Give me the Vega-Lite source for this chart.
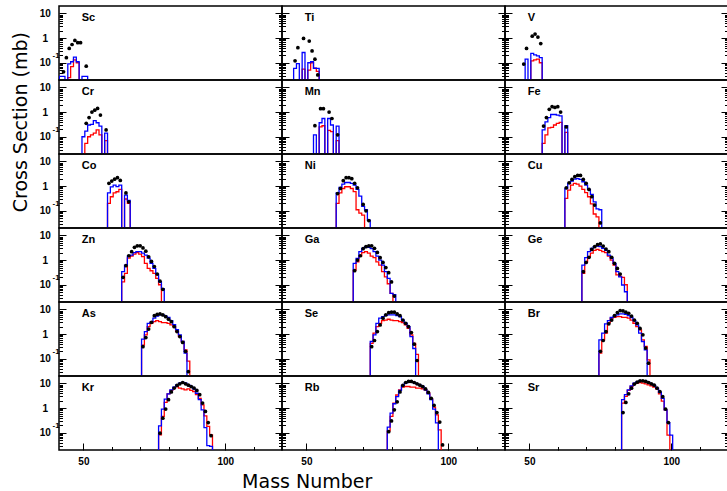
{
"$schema":"https://vega.github.io/schema/vega-lite/v6.json",
"background":"white",
"padding":{"left":10,"top":5,"right":0,"bottom":45},
"config":{"view":{"stroke":"black","strokeWidth":1.5},"concat":{"spacing":0},
"axis":{"domain":false,"grid":false,"tickColor":"black","tickWidth":1,"labelFont":"Liberation Sans","labelFontWeight":"bold","labelFontSize":10,"labelColor":"black","labelOverlap":false,"labelFlush":false,"labelBound":false,"titleFont":"DejaVu Sans","titleFontWeight":"normal","titleFontSize":19,"titleColor":"black"}},
"datasets":{"d":[
{"el":"Sc","A":41,"b":0.001,"r":0.001},{"el":"Sc","A":42,"b":0.028,"r":0.001},{"el":"Sc","A":43,"e":0.043,"b":0.028,"r":0.001},{"el":"Sc","A":44,"e":0.16,"b":0.001,"r":0.001},{"el":"Sc","A":45,"e":0.38,"b":0.09,"r":0.025},{"el":"Sc","A":46,"e":0.55,"b":0.11,"r":0.07},{"el":"Sc","A":47,"e":0.8,"b":0.17,"r":0.13},{"el":"Sc","A":48,"e":0.65,"b":0.11,"r":0.1},{"el":"Sc","A":49,"e":0.65,"b":0.001,"r":0.001},{"el":"Sc","A":50,"b":0.028,"r":0.001},{"el":"Sc","A":51,"e":0.073,"b":0.028,"r":0.001},{"el":"Sc","A":52,"b":0.001,"r":0.001},
{"el":"Ti","A":45,"b":0.001,"r":0.001},{"el":"Ti","A":46,"e":0.12,"b":0.059,"r":0.001},{"el":"Ti","A":47,"e":0.41,"b":0.093,"r":0.001},{"el":"Ti","A":48,"b":0.001,"r":0.001},{"el":"Ti","A":49,"e":0.97,"b":0.26,"r":0.055},{"el":"Ti","A":50,"b":0.001,"r":0.001},{"el":"Ti","A":51,"e":0.76,"b":0.1,"r":0.05},{"el":"Ti","A":52,"e":0.3,"b":0.11,"r":0.1},{"el":"Ti","A":53,"e":0.14,"b":0.06,"r":0.06},{"el":"Ti","A":54,"e":0.032,"b":0.059,"r":0.045},{"el":"Ti","A":55,"b":0.001,"r":0.001},
{"el":"V","A":47,"b":0.001,"r":0.001},{"el":"V","A":48,"e":0.089,"b":0.001,"r":0.001},{"el":"V","A":49,"e":0.38,"b":0.14,"r":0.001},{"el":"V","A":50,"b":0.001,"r":0.001},{"el":"V","A":51,"e":1.2,"b":0.24,"r":0.12},{"el":"V","A":52,"e":1.45,"b":0.21,"r":0.13},{"el":"V","A":53,"e":1.1,"b":0.19,"r":0.14},{"el":"V","A":54,"e":0.6,"b":0.16,"r":0.1},{"el":"V","A":55,"b":0.001,"r":0.001},
{"el":"Cr","A":49,"b":0.001,"r":0.001},{"el":"Cr","A":50,"b":0.1,"r":0.001},{"el":"Cr","A":51,"e":0.35,"b":0.17,"r":0.054},{"el":"Cr","A":52,"e":0.6,"b":0.3,"r":0.1},{"el":"Cr","A":53,"e":1.0,"b":0.32,"r":0.12},{"el":"Cr","A":54,"e":1.2,"b":0.45,"r":0.14},{"el":"Cr","A":55,"e":1.4,"b":0.37,"r":0.19},{"el":"Cr","A":56,"e":0.76,"b":0.27,"r":0.12},{"el":"Cr","A":57,"b":0.001,"r":0.001},{"el":"Cr","A":58,"e":0.19,"b":0.14,"r":0.07},{"el":"Cr","A":59,"b":0.001,"r":0.001},
{"el":"Mn","A":52,"b":0.001,"r":0.001},{"el":"Mn","A":53,"e":0.28,"b":0.12,"r":0.001},{"el":"Mn","A":54,"b":0.001,"r":0.001},{"el":"Mn","A":55,"e":1.37,"b":0.37,"r":0.25},{"el":"Mn","A":56,"e":1.37,"b":0.55,"r":0.28},{"el":"Mn","A":57,"b":0.001,"r":0.001},{"el":"Mn","A":58,"e":1.0,"b":0.55,"r":0.18},{"el":"Mn","A":59,"e":0.55,"b":0.3,"r":0.16},{"el":"Mn","A":60,"b":0.001,"r":0.001},{"el":"Mn","A":61,"e":0.12,"b":0.27,"r":0.07},{"el":"Mn","A":62,"b":0.001,"r":0.001},
{"el":"Fe","A":54,"b":0.001,"r":0.001},{"el":"Fe","A":55,"e":0.27,"b":0.19,"r":0.054},{"el":"Fe","A":56,"e":0.6,"b":0.4,"r":0.12},{"el":"Fe","A":57,"e":1.3,"b":0.6,"r":0.23},{"el":"Fe","A":58,"e":1.65,"b":0.8,"r":0.24},{"el":"Fe","A":59,"e":1.55,"b":0.8,"r":0.3},{"el":"Fe","A":60,"e":1.65,"b":0.75,"r":0.35},{"el":"Fe","A":61,"e":1.0,"b":0.7,"r":0.38},{"el":"Fe","A":62,"b":0.001,"r":0.001},{"el":"Fe","A":63,"e":0.25,"b":0.28,"r":0.15},{"el":"Fe","A":64,"b":0.001,"r":0.001},
{"el":"Co","A":58,"b":0.001,"r":0.001},{"el":"Co","A":59,"e":1.3,"b":0.53,"r":0.2},{"el":"Co","A":60,"e":1.6,"b":0.93,"r":0.37},{"el":"Co","A":61,"e":1.9,"b":1.1,"r":0.53},{"el":"Co","A":62,"e":2.2,"b":0.95,"r":0.59},{"el":"Co","A":63,"e":1.7,"b":1.1,"r":0.73},{"el":"Co","A":64,"b":0.001,"r":0.001},{"el":"Co","A":65,"e":0.53,"b":0.43,"r":0.3},{"el":"Co","A":66,"e":0.23,"b":0.26,"r":0.2},{"el":"Co","A":67,"b":0.001,"r":0.001},
{"el":"Ni","A":60,"b":0.001,"r":0.001},{"el":"Ni","A":61,"e":0.5,"b":0.53,"r":0.2},{"el":"Ni","A":62,"e":0.8,"b":0.88,"r":0.53},{"el":"Ni","A":63,"e":1.65,"b":1.2,"r":0.8},{"el":"Ni","A":64,"e":2.2,"b":1.4,"r":0.94},{"el":"Ni","A":65,"e":2.2,"b":1.4,"r":0.94},{"el":"Ni","A":66,"e":2.0,"b":1.3,"r":0.8},{"el":"Ni","A":67,"e":1.3,"b":1.1,"r":0.6},{"el":"Ni","A":68,"e":0.85,"b":0.73,"r":0.11},{"el":"Ni","A":69,"b":0.39,"r":0.08},{"el":"Ni","A":70,"e":0.18,"b":0.15,"r":0.067},{"el":"Ni","A":71,"e":0.1,"b":0.11,"r":0.001},{"el":"Ni","A":72,"e":0.04,"b":0.042,"r":0.001},{"el":"Ni","A":73,"b":0.001,"r":0.001},
{"el":"Cu","A":62,"b":0.001,"r":0.001},{"el":"Cu","A":63,"e":0.85,"b":0.8,"r":0.32},{"el":"Cu","A":64,"e":1.36,"b":1.3,"r":0.69},{"el":"Cu","A":65,"e":1.86,"b":1.6,"r":1.1},{"el":"Cu","A":66,"e":2.4,"b":1.9,"r":1.3},{"el":"Cu","A":67,"e":2.7,"b":2.0,"r":1.2},{"el":"Cu","A":68,"e":2.7,"b":1.86,"r":1.0},{"el":"Cu","A":69,"e":1.86,"b":1.5,"r":0.73},{"el":"Cu","A":70,"e":1.3,"b":1.1,"r":0.54},{"el":"Cu","A":71,"e":0.73,"b":0.73,"r":0.37},{"el":"Cu","A":72,"e":0.37,"b":0.46,"r":0.19},{"el":"Cu","A":73,"e":0.17,"b":0.23,"r":0.074},{"el":"Cu","A":74,"b":0.12,"r":0.057},{"el":"Cu","A":75,"e":0.032,"b":0.11,"r":0.001},{"el":"Cu","A":76,"b":0.001,"r":0.001},
{"el":"Zn","A":63,"b":0.001,"r":0.001},{"el":"Zn","A":64,"e":0.2,"b":0.34,"r":0.13},{"el":"Zn","A":65,"e":0.59,"b":0.63,"r":0.29},{"el":"Zn","A":66,"e":1.5,"b":1.45,"r":1.2},{"el":"Zn","A":67,"e":2.2,"b":1.6,"r":1.45},{"el":"Zn","A":68,"e":3.3,"b":2.0,"r":1.75},{"el":"Zn","A":69,"e":3.8,"b":2.2,"r":2.0},{"el":"Zn","A":70,"e":3.8,"b":2.2,"r":1.75},{"el":"Zn","A":71,"e":3.1,"b":1.9,"r":1.37},{"el":"Zn","A":72,"e":2.3,"b":1.6,"r":0.73},{"el":"Zn","A":73,"e":1.36,"b":1.2,"r":0.46},{"el":"Zn","A":74,"e":0.88,"b":0.73,"r":0.37},{"el":"Zn","A":75,"e":0.55,"b":0.46,"r":0.29},{"el":"Zn","A":76,"e":0.27,"b":0.27,"r":0.18},{"el":"Zn","A":77,"e":0.14,"b":0.13,"r":0.1},{"el":"Zn","A":78,"e":0.065,"b":0.07,"r":0.001},{"el":"Zn","A":79,"b":0.001,"r":0.001},
{"el":"Ga","A":66,"b":0.001,"r":0.001},{"el":"Ga","A":67,"e":0.37,"b":0.73,"r":0.39},{"el":"Ga","A":68,"e":1.0,"b":1.17,"r":0.85},{"el":"Ga","A":69,"e":1.5,"b":2.2,"r":1.45},{"el":"Ga","A":70,"e":2.9,"b":3.0,"r":2.0},{"el":"Ga","A":71,"e":3.5,"b":3.5,"r":2.2},{"el":"Ga","A":72,"e":3.8,"b":3.3,"r":1.9},{"el":"Ga","A":73,"e":3.8,"b":2.9,"r":1.45},{"el":"Ga","A":74,"e":3.0,"b":2.2,"r":1.25},{"el":"Ga","A":75,"e":2.05,"b":1.45,"r":0.85},{"el":"Ga","A":76,"e":1.25,"b":1.0,"r":0.63},{"el":"Ga","A":77,"e":0.8,"b":0.63,"r":0.34},{"el":"Ga","A":78,"e":0.5,"b":0.34,"r":0.21},{"el":"Ga","A":79,"e":0.31,"b":0.18,"r":0.11},{"el":"Ga","A":80,"e":0.13,"b":0.045,"r":0.045},{"el":"Ga","A":81,"e":0.035,"b":0.04,"r":0.001},{"el":"Ga","A":82,"b":0.001,"r":0.001},
{"el":"Ge","A":68,"b":0.001,"r":0.001},{"el":"Ge","A":69,"e":0.34,"b":0.63,"r":0.29},{"el":"Ge","A":70,"e":0.8,"b":1.25,"r":0.85},{"el":"Ge","A":71,"e":1.3,"b":2.2,"r":1.37},{"el":"Ge","A":72,"e":2.7,"b":3.0,"r":1.9},{"el":"Ge","A":73,"e":3.5,"b":3.5,"r":2.5},{"el":"Ge","A":74,"e":4.2,"b":3.7,"r":2.7},{"el":"Ge","A":75,"e":4.5,"b":3.5,"r":2.5},{"el":"Ge","A":76,"e":3.7,"b":3.0,"r":2.2},{"el":"Ge","A":77,"e":2.8,"b":2.5,"r":2.0},{"el":"Ge","A":78,"e":2.2,"b":1.6,"r":1.45},{"el":"Ge","A":79,"e":1.3,"b":1.17,"r":1.0},{"el":"Ge","A":80,"e":0.73,"b":0.73,"r":0.63},{"el":"Ge","A":81,"e":0.46,"b":0.34,"r":0.25},{"el":"Ge","A":82,"e":0.27,"b":0.21,"r":0.22},{"el":"Ge","A":83,"b":0.098,"r":0.2},{"el":"Ge","A":84,"b":0.052,"r":0.1},{"el":"Ge","A":85,"b":0.001,"r":0.001},
{"el":"As","A":70,"b":0.001,"r":0.001},{"el":"As","A":71,"e":0.31,"b":0.62,"r":0.36},{"el":"As","A":72,"e":0.72,"b":1.26,"r":0.93},{"el":"As","A":73,"e":1.6,"b":2.7,"r":2.0},{"el":"As","A":74,"e":3.0,"b":3.1,"r":2.7},{"el":"As","A":75,"e":5.6,"b":4.4,"r":3.2},{"el":"As","A":76,"e":6.3,"b":5.4,"r":3.5},{"el":"As","A":77,"e":6.6,"b":6.0,"r":3.2},{"el":"As","A":78,"e":6.0,"b":6.0,"r":2.9},{"el":"As","A":79,"e":5.1,"b":5.4,"r":2.9},{"el":"As","A":80,"e":4.0,"b":4.7,"r":2.7},{"el":"As","A":81,"e":3.2,"b":3.5,"r":2.35},{"el":"As","A":82,"e":2.0,"b":2.4,"r":2.0},{"el":"As","A":83,"e":1.26,"b":1.5,"r":1.26},{"el":"As","A":84,"e":0.79,"b":0.93,"r":0.79},{"el":"As","A":85,"e":0.46,"b":0.5,"r":0.5},{"el":"As","A":86,"e":0.2,"b":0.17,"r":0.23},{"el":"As","A":87,"e":0.03,"b":0.001,"r":0.08},{"el":"As","A":88,"b":0.001,"r":0.001},
{"el":"Se","A":72,"b":0.001,"r":0.001},{"el":"Se","A":73,"e":0.31,"b":0.5,"r":0.42},{"el":"Se","A":74,"e":0.55,"b":0.93,"r":1.1},{"el":"Se","A":75,"e":1.26,"b":2.7,"r":2.0},{"el":"Se","A":76,"e":2.35,"b":4.4,"r":2.7},{"el":"Se","A":77,"e":4.4,"b":5.1,"r":3.5},{"el":"Se","A":78,"e":6.0,"b":5.8,"r":3.7},{"el":"Se","A":79,"e":7.4,"b":6.0,"r":4.0},{"el":"Se","A":80,"e":7.7,"b":6.0,"r":3.7},{"el":"Se","A":81,"e":7.7,"b":6.0,"r":3.5},{"el":"Se","A":82,"e":6.6,"b":5.6,"r":3.5},{"el":"Se","A":83,"e":5.6,"b":5.1,"r":3.2},{"el":"Se","A":84,"e":3.7,"b":3.7,"r":2.9},{"el":"Se","A":85,"e":2.75,"b":2.75,"r":2.35},{"el":"Se","A":86,"e":2.0,"b":2.0,"r":1.7},{"el":"Se","A":87,"e":1.15,"b":0.79,"r":0.93},{"el":"Se","A":88,"e":0.39,"b":0.26,"r":0.42},{"el":"Se","A":89,"e":0.085,"b":0.001,"r":0.15},{"el":"Se","A":90,"b":0.001,"r":0.001},
{"el":"Br","A":74,"b":0.001,"r":0.001},{"el":"Br","A":75,"e":0.2,"b":0.58,"r":0.17},{"el":"Br","A":76,"e":0.55,"b":1.1,"r":0.58},{"el":"Br","A":77,"e":1.26,"b":2.6,"r":1.1},{"el":"Br","A":78,"e":2.6,"b":3.5,"r":2.9},{"el":"Br","A":79,"e":3.7,"b":4.7,"r":4.4},{"el":"Br","A":80,"e":5.6,"b":5.4,"r":4.8},{"el":"Br","A":81,"e":7.4,"b":6.0,"r":5.1},{"el":"Br","A":82,"e":9.0,"b":6.6,"r":5.1},{"el":"Br","A":83,"e":8.7,"b":6.6,"r":4.8},{"el":"Br","A":84,"e":7.7,"b":6.3,"r":4.8},{"el":"Br","A":85,"e":7.0,"b":5.6,"r":4.4},{"el":"Br","A":86,"e":5.4,"b":4.7,"r":3.7},{"el":"Br","A":87,"e":3.7,"b":3.5,"r":2.75},{"el":"Br","A":88,"e":2.75,"b":2.35,"r":2.0},{"el":"Br","A":89,"e":1.7,"b":1.1,"r":1.47},{"el":"Br","A":90,"e":0.93,"b":0.5,"r":0.58},{"el":"Br","A":91,"e":0.27,"b":0.23,"r":0.32},{"el":"Br","A":92,"e":0.066,"b":0.001,"r":0.09},{"el":"Br","A":93,"b":0.001,"r":0.001},
{"el":"Kr","A":76,"b":0.001,"r":0.001},{"el":"Kr","A":77,"e":0.096,"b":0.19,"r":0.082},{"el":"Kr","A":78,"e":0.39,"b":0.91,"r":0.46},{"el":"Kr","A":79,"e":0.91,"b":2.3,"r":1.7},{"el":"Kr","A":80,"e":2.2,"b":3.8,"r":3.8},{"el":"Kr","A":81,"e":4.5,"b":5.5,"r":5.2},{"el":"Kr","A":82,"e":6.5,"b":7.1,"r":6.5},{"el":"Kr","A":83,"e":8.3,"b":8.8,"r":7.5},{"el":"Kr","A":84,"e":9.6,"b":10.2,"r":6.5},{"el":"Kr","A":85,"e":10.9,"b":10.9,"r":6.0},{"el":"Kr","A":86,"e":9.6,"b":10.2,"r":5.5},{"el":"Kr","A":87,"e":8.5,"b":8.8,"r":6.0},{"el":"Kr","A":88,"e":7.5,"b":7.5,"r":5.2},{"el":"Kr","A":89,"e":6.5,"b":6.0,"r":4.7},{"el":"Kr","A":90,"e":5.2,"b":4.0,"r":3.5},{"el":"Kr","A":91,"e":3.5,"b":2.2,"r":2.5},{"el":"Kr","A":92,"e":1.6,"b":0.85,"r":1.35},{"el":"Kr","A":93,"e":0.73,"b":0.16,"r":0.48},{"el":"Kr","A":94,"e":0.26,"b":0.03,"r":0.18},{"el":"Kr","A":95,"e":0.076,"b":0.028,"r":0.082},{"el":"Kr","A":96,"b":0.001,"r":0.001},
{"el":"Rb","A":78,"b":0.001,"r":0.001},{"el":"Rb","A":79,"e":0.11,"b":0.17,"r":0.12},{"el":"Rb","A":80,"e":0.3,"b":0.63,"r":0.46},{"el":"Rb","A":81,"e":0.85,"b":1.5,"r":1.6},{"el":"Rb","A":82,"e":1.8,"b":2.9,"r":3.4},{"el":"Rb","A":83,"e":4.5,"b":5.2,"r":5.5},{"el":"Rb","A":84,"e":8.3,"b":8.3,"r":7.1},{"el":"Rb","A":85,"e":10.9,"b":10.2,"r":7.5},{"el":"Rb","A":86,"e":12,"b":11.6,"r":7.5},{"el":"Rb","A":87,"e":12,"b":11.6,"r":7.1},{"el":"Rb","A":88,"e":10.9,"b":10.9,"r":7.1},{"el":"Rb","A":89,"e":9.6,"b":9.6,"r":6.5},{"el":"Rb","A":90,"e":8.5,"b":8.5,"r":6.5},{"el":"Rb","A":91,"e":7.5,"b":7.5,"r":6.0},{"el":"Rb","A":92,"e":6.0,"b":5.5,"r":5.5},{"el":"Rb","A":93,"e":4.3,"b":3.8,"r":4.0},{"el":"Rb","A":94,"e":2.5,"b":2.2,"r":2.3},{"el":"Rb","A":95,"e":1.3,"b":0.91,"r":1.1},{"el":"Rb","A":96,"e":0.66,"b":0.25,"r":0.53},{"el":"Rb","A":97,"e":0.27,"b":0.001,"r":0.13},{"el":"Rb","A":98,"e":0.032,"b":0.001,"r":0.001},{"el":"Rb","A":99,"b":0.001,"r":0.001},
{"el":"Sr","A":82,"b":0.001,"r":0.001},{"el":"Sr","A":83,"e":0.66,"b":2.2,"r":1.6},{"el":"Sr","A":84,"e":1.7,"b":3.5,"r":3.0},{"el":"Sr","A":85,"e":3.8,"b":5.5,"r":5.2},{"el":"Sr","A":86,"e":6.4,"b":8.0,"r":7.5},{"el":"Sr","A":87,"e":9.4,"b":10.3,"r":9.6},{"el":"Sr","A":88,"e":11.2,"b":11.6,"r":10.2},{"el":"Sr","A":89,"e":12.7,"b":12.7,"r":10.9},{"el":"Sr","A":90,"e":12.7,"b":12.7,"r":10.2},{"el":"Sr","A":91,"e":12,"b":12,"r":9.6},{"el":"Sr","A":92,"e":10.9,"b":10.9,"r":8.8},{"el":"Sr","A":93,"e":9.6,"b":9.6,"r":8.0},{"el":"Sr","A":94,"e":8.5,"b":8.3,"r":7.1},{"el":"Sr","A":95,"e":6.4,"b":6.4,"r":6.0},{"el":"Sr","A":96,"e":4.7,"b":4.3,"r":3.8},{"el":"Sr","A":97,"e":2.9,"b":2.5,"r":1.9},{"el":"Sr","A":98,"e":0.91,"b":0.85,"r":0.85},{"el":"Sr","A":99,"e":0.26,"b":0.25,"r":0.08},{"el":"Sr","A":100,"b":0.08,"r":0.001},{"el":"Sr","A":101,"b":0.001,"r":0.001}
]},
"data":{"name":"d"},
"spacing":0,
"bounds":"flush",
"columns":3,
"concat":[
{"transform":[{"filter":"datum.el=='Sc'"}],"width":223,"height":74,"resolve":{"axis":{"y":"independent"}},"layer":[
{"mark":{"type":"line","interpolate":"step","color":"#ff0000","strokeWidth":1.3,"clip":true},"encoding":{"x":{"field":"A","type":"quantitative","scale":{"domain":[41.4,120],"nice":false,"zero":false},"axis":{"orient":"bottom","values":[50,60,70,80,90,100,110],"tickSize":{"condition":{"test":"datum.value==50||datum.value==100","value":-7},"value":-3.5},"labels":false,"title":null}},"y":{"field":"r","type":"quantitative","scale":{"type":"log","domain":[0.02,20],"nice":false},"axis":{"orient":"left","values":[0.03,0.04,0.05,0.06,0.07,0.08,0.09,0.1,0.2,0.3,0.4,0.5,0.6,0.7,0.8,0.9,1,2,3,4,5,6,7,8,9,10],"tickSize":{"condition":{"test":"datum.value==0.1||datum.value==1||datum.value==10","value":-7},"value":-3.5},"labelExpr":"datum.value==1?'1':(datum.value==10||datum.value==0.1)?'10':''","labelAlign":"center","labelBaseline":"middle","labelPadding":21.3,"title":null}}}},
{"mark":{"type":"line","interpolate":"step","color":"#0000ff","strokeWidth":1.3,"clip":true},"encoding":{"x":{"field":"A","type":"quantitative","scale":{"domain":[41.4,120],"nice":false,"zero":false},"axis":null},"y":{"field":"b","type":"quantitative","scale":{"type":"log","domain":[0.02,20],"nice":false},"axis":{"orient":"right","values":[0.03,0.04,0.05,0.06,0.07,0.08,0.09,0.1,0.2,0.3,0.4,0.5,0.6,0.7,0.8,0.9,1,2,3,4,5,6,7,8,9,10],"tickSize":{"condition":{"test":"datum.value==0.1||datum.value==1||datum.value==10","value":-7},"value":-3.5},"labels":false,"title":null}}}},
{"mark":{"type":"point","filled":true,"color":"black","opacity":1,"size":14,"clip":true},"encoding":{"x":{"field":"A","type":"quantitative","scale":{"domain":[41.4,120],"nice":false,"zero":false},"axis":null},"y":{"field":"e","type":"quantitative","scale":{"type":"log","domain":[0.02,20],"nice":false},"axis":{"orient":"left","values":[0.1],"ticks":false,"labelExpr":"'-1'","labelFontSize":8,"labelAlign":"left","labelBaseline":"middle","labelPadding":7,"labelOffset":-7,"title":null}}}},
{"data":{"values":[{"el":"Sc"}]},"mark":{"type":"text","text":"Sc","align":"left","baseline":"middle","font":"Liberation Sans","fontWeight":"bold","fontSize":11,"color":"black"},"encoding":{"x":{"datum":49.4,"type":"quantitative","scale":{"domain":[41.4,120],"nice":false,"zero":false},"axis":null},"y":{"datum":6.4,"type":"quantitative","scale":{"type":"log","domain":[0.02,20],"nice":false},"axis":null}}}]},
{"transform":[{"filter":"datum.el=='Ti'"}],"width":223,"height":74,"resolve":{"axis":{"y":"independent"}},"layer":[
{"mark":{"type":"line","interpolate":"step","color":"#ff0000","strokeWidth":1.3,"clip":true},"encoding":{"x":{"field":"A","type":"quantitative","scale":{"domain":[41.4,120],"nice":false,"zero":false},"axis":{"orient":"bottom","values":[50,60,70,80,90,100,110],"tickSize":{"condition":{"test":"datum.value==50||datum.value==100","value":-7},"value":-3.5},"labels":false,"title":null}},"y":{"field":"r","type":"quantitative","scale":{"type":"log","domain":[0.02,20],"nice":false},"axis":{"orient":"left","values":[0.03,0.04,0.05,0.06,0.07,0.08,0.09,0.1,0.2,0.3,0.4,0.5,0.6,0.7,0.8,0.9,1,2,3,4,5,6,7,8,9,10],"tickSize":{"condition":{"test":"datum.value==0.1||datum.value==1||datum.value==10","value":-7},"value":-3.5},"labels":false,"title":null}}}},
{"mark":{"type":"line","interpolate":"step","color":"#0000ff","strokeWidth":1.3,"clip":true},"encoding":{"x":{"field":"A","type":"quantitative","scale":{"domain":[41.4,120],"nice":false,"zero":false},"axis":null},"y":{"field":"b","type":"quantitative","scale":{"type":"log","domain":[0.02,20],"nice":false},"axis":{"orient":"right","values":[0.03,0.04,0.05,0.06,0.07,0.08,0.09,0.1,0.2,0.3,0.4,0.5,0.6,0.7,0.8,0.9,1,2,3,4,5,6,7,8,9,10],"tickSize":{"condition":{"test":"datum.value==0.1||datum.value==1||datum.value==10","value":-7},"value":-3.5},"labels":false,"title":null}}}},
{"mark":{"type":"point","filled":true,"color":"black","opacity":1,"size":14,"clip":true},"encoding":{"x":{"field":"A","type":"quantitative","scale":{"domain":[41.4,120],"nice":false,"zero":false},"axis":null},"y":{"field":"e","type":"quantitative","scale":{"type":"log","domain":[0.02,20],"nice":false},"axis":null}}},
{"data":{"values":[{"el":"Ti"}]},"mark":{"type":"text","text":"Ti","align":"left","baseline":"middle","font":"Liberation Sans","fontWeight":"bold","fontSize":11,"color":"black"},"encoding":{"x":{"datum":49.4,"type":"quantitative","scale":{"domain":[41.4,120],"nice":false,"zero":false},"axis":null},"y":{"datum":6.4,"type":"quantitative","scale":{"type":"log","domain":[0.02,20],"nice":false},"axis":null}}}]},
{"transform":[{"filter":"datum.el=='V'"}],"width":223,"height":74,"resolve":{"axis":{"y":"independent"}},"layer":[
{"mark":{"type":"line","interpolate":"step","color":"#ff0000","strokeWidth":1.3,"clip":true},"encoding":{"x":{"field":"A","type":"quantitative","scale":{"domain":[41.4,120],"nice":false,"zero":false},"axis":{"orient":"bottom","values":[50,60,70,80,90,100,110],"tickSize":{"condition":{"test":"datum.value==50||datum.value==100","value":-7},"value":-3.5},"labels":false,"title":null}},"y":{"field":"r","type":"quantitative","scale":{"type":"log","domain":[0.02,20],"nice":false},"axis":{"orient":"left","values":[0.03,0.04,0.05,0.06,0.07,0.08,0.09,0.1,0.2,0.3,0.4,0.5,0.6,0.7,0.8,0.9,1,2,3,4,5,6,7,8,9,10],"tickSize":{"condition":{"test":"datum.value==0.1||datum.value==1||datum.value==10","value":-7},"value":-3.5},"labels":false,"title":null}}}},
{"mark":{"type":"line","interpolate":"step","color":"#0000ff","strokeWidth":1.3,"clip":true},"encoding":{"x":{"field":"A","type":"quantitative","scale":{"domain":[41.4,120],"nice":false,"zero":false},"axis":null},"y":{"field":"b","type":"quantitative","scale":{"type":"log","domain":[0.02,20],"nice":false},"axis":{"orient":"right","values":[0.03,0.04,0.05,0.06,0.07,0.08,0.09,0.1,0.2,0.3,0.4,0.5,0.6,0.7,0.8,0.9,1,2,3,4,5,6,7,8,9,10],"tickSize":{"condition":{"test":"datum.value==0.1||datum.value==1||datum.value==10","value":-7},"value":-3.5},"labels":false,"title":null}}}},
{"mark":{"type":"point","filled":true,"color":"black","opacity":1,"size":14,"clip":true},"encoding":{"x":{"field":"A","type":"quantitative","scale":{"domain":[41.4,120],"nice":false,"zero":false},"axis":null},"y":{"field":"e","type":"quantitative","scale":{"type":"log","domain":[0.02,20],"nice":false},"axis":null}}},
{"data":{"values":[{"el":"V"}]},"mark":{"type":"text","text":"V","align":"left","baseline":"middle","font":"Liberation Sans","fontWeight":"bold","fontSize":11,"color":"black"},"encoding":{"x":{"datum":49.4,"type":"quantitative","scale":{"domain":[41.4,120],"nice":false,"zero":false},"axis":null},"y":{"datum":6.4,"type":"quantitative","scale":{"type":"log","domain":[0.02,20],"nice":false},"axis":null}}}]},
{"transform":[{"filter":"datum.el=='Cr'"}],"width":223,"height":74,"resolve":{"axis":{"y":"independent"}},"layer":[
{"mark":{"type":"line","interpolate":"step","color":"#ff0000","strokeWidth":1.3,"clip":true},"encoding":{"x":{"field":"A","type":"quantitative","scale":{"domain":[41.4,120],"nice":false,"zero":false},"axis":{"orient":"bottom","values":[50,60,70,80,90,100,110],"tickSize":{"condition":{"test":"datum.value==50||datum.value==100","value":-7},"value":-3.5},"labels":false,"title":null}},"y":{"field":"r","type":"quantitative","scale":{"type":"log","domain":[0.02,20],"nice":false},"axis":{"orient":"left","values":[0.03,0.04,0.05,0.06,0.07,0.08,0.09,0.1,0.2,0.3,0.4,0.5,0.6,0.7,0.8,0.9,1,2,3,4,5,6,7,8,9,10],"tickSize":{"condition":{"test":"datum.value==0.1||datum.value==1||datum.value==10","value":-7},"value":-3.5},"labelExpr":"datum.value==1?'1':(datum.value==10||datum.value==0.1)?'10':''","labelAlign":"center","labelBaseline":"middle","labelPadding":21.3,"title":"Cross Section (mb)","titleX":-32.3,"titleY":41.7,"titleAngle":-90,"titleAlign":"center","titleBaseline":"alphabetic"}}}},
{"mark":{"type":"line","interpolate":"step","color":"#0000ff","strokeWidth":1.3,"clip":true},"encoding":{"x":{"field":"A","type":"quantitative","scale":{"domain":[41.4,120],"nice":false,"zero":false},"axis":null},"y":{"field":"b","type":"quantitative","scale":{"type":"log","domain":[0.02,20],"nice":false},"axis":{"orient":"right","values":[0.03,0.04,0.05,0.06,0.07,0.08,0.09,0.1,0.2,0.3,0.4,0.5,0.6,0.7,0.8,0.9,1,2,3,4,5,6,7,8,9,10],"tickSize":{"condition":{"test":"datum.value==0.1||datum.value==1||datum.value==10","value":-7},"value":-3.5},"labels":false,"title":null}}}},
{"mark":{"type":"point","filled":true,"color":"black","opacity":1,"size":14,"clip":true},"encoding":{"x":{"field":"A","type":"quantitative","scale":{"domain":[41.4,120],"nice":false,"zero":false},"axis":null},"y":{"field":"e","type":"quantitative","scale":{"type":"log","domain":[0.02,20],"nice":false},"axis":{"orient":"left","values":[0.1],"ticks":false,"labelExpr":"'-1'","labelFontSize":8,"labelAlign":"left","labelBaseline":"middle","labelPadding":7,"labelOffset":-7,"title":null}}}},
{"data":{"values":[{"el":"Cr"}]},"mark":{"type":"text","text":"Cr","align":"left","baseline":"middle","font":"Liberation Sans","fontWeight":"bold","fontSize":11,"color":"black"},"encoding":{"x":{"datum":49.4,"type":"quantitative","scale":{"domain":[41.4,120],"nice":false,"zero":false},"axis":null},"y":{"datum":6.4,"type":"quantitative","scale":{"type":"log","domain":[0.02,20],"nice":false},"axis":null}}}]},
{"transform":[{"filter":"datum.el=='Mn'"}],"width":223,"height":74,"resolve":{"axis":{"y":"independent"}},"layer":[
{"mark":{"type":"line","interpolate":"step","color":"#ff0000","strokeWidth":1.3,"clip":true},"encoding":{"x":{"field":"A","type":"quantitative","scale":{"domain":[41.4,120],"nice":false,"zero":false},"axis":{"orient":"bottom","values":[50,60,70,80,90,100,110],"tickSize":{"condition":{"test":"datum.value==50||datum.value==100","value":-7},"value":-3.5},"labels":false,"title":null}},"y":{"field":"r","type":"quantitative","scale":{"type":"log","domain":[0.02,20],"nice":false},"axis":{"orient":"left","values":[0.03,0.04,0.05,0.06,0.07,0.08,0.09,0.1,0.2,0.3,0.4,0.5,0.6,0.7,0.8,0.9,1,2,3,4,5,6,7,8,9,10],"tickSize":{"condition":{"test":"datum.value==0.1||datum.value==1||datum.value==10","value":-7},"value":-3.5},"labels":false,"title":null}}}},
{"mark":{"type":"line","interpolate":"step","color":"#0000ff","strokeWidth":1.3,"clip":true},"encoding":{"x":{"field":"A","type":"quantitative","scale":{"domain":[41.4,120],"nice":false,"zero":false},"axis":null},"y":{"field":"b","type":"quantitative","scale":{"type":"log","domain":[0.02,20],"nice":false},"axis":{"orient":"right","values":[0.03,0.04,0.05,0.06,0.07,0.08,0.09,0.1,0.2,0.3,0.4,0.5,0.6,0.7,0.8,0.9,1,2,3,4,5,6,7,8,9,10],"tickSize":{"condition":{"test":"datum.value==0.1||datum.value==1||datum.value==10","value":-7},"value":-3.5},"labels":false,"title":null}}}},
{"mark":{"type":"point","filled":true,"color":"black","opacity":1,"size":14,"clip":true},"encoding":{"x":{"field":"A","type":"quantitative","scale":{"domain":[41.4,120],"nice":false,"zero":false},"axis":null},"y":{"field":"e","type":"quantitative","scale":{"type":"log","domain":[0.02,20],"nice":false},"axis":null}}},
{"data":{"values":[{"el":"Mn"}]},"mark":{"type":"text","text":"Mn","align":"left","baseline":"middle","font":"Liberation Sans","fontWeight":"bold","fontSize":11,"color":"black"},"encoding":{"x":{"datum":49.4,"type":"quantitative","scale":{"domain":[41.4,120],"nice":false,"zero":false},"axis":null},"y":{"datum":6.4,"type":"quantitative","scale":{"type":"log","domain":[0.02,20],"nice":false},"axis":null}}}]},
{"transform":[{"filter":"datum.el=='Fe'"}],"width":223,"height":74,"resolve":{"axis":{"y":"independent"}},"layer":[
{"mark":{"type":"line","interpolate":"step","color":"#ff0000","strokeWidth":1.3,"clip":true},"encoding":{"x":{"field":"A","type":"quantitative","scale":{"domain":[41.4,120],"nice":false,"zero":false},"axis":{"orient":"bottom","values":[50,60,70,80,90,100,110],"tickSize":{"condition":{"test":"datum.value==50||datum.value==100","value":-7},"value":-3.5},"labels":false,"title":null}},"y":{"field":"r","type":"quantitative","scale":{"type":"log","domain":[0.02,20],"nice":false},"axis":{"orient":"left","values":[0.03,0.04,0.05,0.06,0.07,0.08,0.09,0.1,0.2,0.3,0.4,0.5,0.6,0.7,0.8,0.9,1,2,3,4,5,6,7,8,9,10],"tickSize":{"condition":{"test":"datum.value==0.1||datum.value==1||datum.value==10","value":-7},"value":-3.5},"labels":false,"title":null}}}},
{"mark":{"type":"line","interpolate":"step","color":"#0000ff","strokeWidth":1.3,"clip":true},"encoding":{"x":{"field":"A","type":"quantitative","scale":{"domain":[41.4,120],"nice":false,"zero":false},"axis":null},"y":{"field":"b","type":"quantitative","scale":{"type":"log","domain":[0.02,20],"nice":false},"axis":{"orient":"right","values":[0.03,0.04,0.05,0.06,0.07,0.08,0.09,0.1,0.2,0.3,0.4,0.5,0.6,0.7,0.8,0.9,1,2,3,4,5,6,7,8,9,10],"tickSize":{"condition":{"test":"datum.value==0.1||datum.value==1||datum.value==10","value":-7},"value":-3.5},"labels":false,"title":null}}}},
{"mark":{"type":"point","filled":true,"color":"black","opacity":1,"size":14,"clip":true},"encoding":{"x":{"field":"A","type":"quantitative","scale":{"domain":[41.4,120],"nice":false,"zero":false},"axis":null},"y":{"field":"e","type":"quantitative","scale":{"type":"log","domain":[0.02,20],"nice":false},"axis":null}}},
{"data":{"values":[{"el":"Fe"}]},"mark":{"type":"text","text":"Fe","align":"left","baseline":"middle","font":"Liberation Sans","fontWeight":"bold","fontSize":11,"color":"black"},"encoding":{"x":{"datum":49.4,"type":"quantitative","scale":{"domain":[41.4,120],"nice":false,"zero":false},"axis":null},"y":{"datum":6.4,"type":"quantitative","scale":{"type":"log","domain":[0.02,20],"nice":false},"axis":null}}}]},
{"transform":[{"filter":"datum.el=='Co'"}],"width":223,"height":74,"resolve":{"axis":{"y":"independent"}},"layer":[
{"mark":{"type":"line","interpolate":"step","color":"#ff0000","strokeWidth":1.3,"clip":true},"encoding":{"x":{"field":"A","type":"quantitative","scale":{"domain":[41.4,120],"nice":false,"zero":false},"axis":{"orient":"bottom","values":[50,60,70,80,90,100,110],"tickSize":{"condition":{"test":"datum.value==50||datum.value==100","value":-7},"value":-3.5},"labels":false,"title":null}},"y":{"field":"r","type":"quantitative","scale":{"type":"log","domain":[0.02,20],"nice":false},"axis":{"orient":"left","values":[0.03,0.04,0.05,0.06,0.07,0.08,0.09,0.1,0.2,0.3,0.4,0.5,0.6,0.7,0.8,0.9,1,2,3,4,5,6,7,8,9,10],"tickSize":{"condition":{"test":"datum.value==0.1||datum.value==1||datum.value==10","value":-7},"value":-3.5},"labelExpr":"datum.value==1?'1':(datum.value==10||datum.value==0.1)?'10':''","labelAlign":"center","labelBaseline":"middle","labelPadding":21.3,"title":null}}}},
{"mark":{"type":"line","interpolate":"step","color":"#0000ff","strokeWidth":1.3,"clip":true},"encoding":{"x":{"field":"A","type":"quantitative","scale":{"domain":[41.4,120],"nice":false,"zero":false},"axis":null},"y":{"field":"b","type":"quantitative","scale":{"type":"log","domain":[0.02,20],"nice":false},"axis":{"orient":"right","values":[0.03,0.04,0.05,0.06,0.07,0.08,0.09,0.1,0.2,0.3,0.4,0.5,0.6,0.7,0.8,0.9,1,2,3,4,5,6,7,8,9,10],"tickSize":{"condition":{"test":"datum.value==0.1||datum.value==1||datum.value==10","value":-7},"value":-3.5},"labels":false,"title":null}}}},
{"mark":{"type":"point","filled":true,"color":"black","opacity":1,"size":14,"clip":true},"encoding":{"x":{"field":"A","type":"quantitative","scale":{"domain":[41.4,120],"nice":false,"zero":false},"axis":null},"y":{"field":"e","type":"quantitative","scale":{"type":"log","domain":[0.02,20],"nice":false},"axis":{"orient":"left","values":[0.1],"ticks":false,"labelExpr":"'-1'","labelFontSize":8,"labelAlign":"left","labelBaseline":"middle","labelPadding":7,"labelOffset":-7,"title":null}}}},
{"data":{"values":[{"el":"Co"}]},"mark":{"type":"text","text":"Co","align":"left","baseline":"middle","font":"Liberation Sans","fontWeight":"bold","fontSize":11,"color":"black"},"encoding":{"x":{"datum":49.4,"type":"quantitative","scale":{"domain":[41.4,120],"nice":false,"zero":false},"axis":null},"y":{"datum":6.4,"type":"quantitative","scale":{"type":"log","domain":[0.02,20],"nice":false},"axis":null}}}]},
{"transform":[{"filter":"datum.el=='Ni'"}],"width":223,"height":74,"resolve":{"axis":{"y":"independent"}},"layer":[
{"mark":{"type":"line","interpolate":"step","color":"#ff0000","strokeWidth":1.3,"clip":true},"encoding":{"x":{"field":"A","type":"quantitative","scale":{"domain":[41.4,120],"nice":false,"zero":false},"axis":{"orient":"bottom","values":[50,60,70,80,90,100,110],"tickSize":{"condition":{"test":"datum.value==50||datum.value==100","value":-7},"value":-3.5},"labels":false,"title":null}},"y":{"field":"r","type":"quantitative","scale":{"type":"log","domain":[0.02,20],"nice":false},"axis":{"orient":"left","values":[0.03,0.04,0.05,0.06,0.07,0.08,0.09,0.1,0.2,0.3,0.4,0.5,0.6,0.7,0.8,0.9,1,2,3,4,5,6,7,8,9,10],"tickSize":{"condition":{"test":"datum.value==0.1||datum.value==1||datum.value==10","value":-7},"value":-3.5},"labels":false,"title":null}}}},
{"mark":{"type":"line","interpolate":"step","color":"#0000ff","strokeWidth":1.3,"clip":true},"encoding":{"x":{"field":"A","type":"quantitative","scale":{"domain":[41.4,120],"nice":false,"zero":false},"axis":null},"y":{"field":"b","type":"quantitative","scale":{"type":"log","domain":[0.02,20],"nice":false},"axis":{"orient":"right","values":[0.03,0.04,0.05,0.06,0.07,0.08,0.09,0.1,0.2,0.3,0.4,0.5,0.6,0.7,0.8,0.9,1,2,3,4,5,6,7,8,9,10],"tickSize":{"condition":{"test":"datum.value==0.1||datum.value==1||datum.value==10","value":-7},"value":-3.5},"labels":false,"title":null}}}},
{"mark":{"type":"point","filled":true,"color":"black","opacity":1,"size":14,"clip":true},"encoding":{"x":{"field":"A","type":"quantitative","scale":{"domain":[41.4,120],"nice":false,"zero":false},"axis":null},"y":{"field":"e","type":"quantitative","scale":{"type":"log","domain":[0.02,20],"nice":false},"axis":null}}},
{"data":{"values":[{"el":"Ni"}]},"mark":{"type":"text","text":"Ni","align":"left","baseline":"middle","font":"Liberation Sans","fontWeight":"bold","fontSize":11,"color":"black"},"encoding":{"x":{"datum":49.4,"type":"quantitative","scale":{"domain":[41.4,120],"nice":false,"zero":false},"axis":null},"y":{"datum":6.4,"type":"quantitative","scale":{"type":"log","domain":[0.02,20],"nice":false},"axis":null}}}]},
{"transform":[{"filter":"datum.el=='Cu'"}],"width":223,"height":74,"resolve":{"axis":{"y":"independent"}},"layer":[
{"mark":{"type":"line","interpolate":"step","color":"#ff0000","strokeWidth":1.3,"clip":true},"encoding":{"x":{"field":"A","type":"quantitative","scale":{"domain":[41.4,120],"nice":false,"zero":false},"axis":{"orient":"bottom","values":[50,60,70,80,90,100,110],"tickSize":{"condition":{"test":"datum.value==50||datum.value==100","value":-7},"value":-3.5},"labels":false,"title":null}},"y":{"field":"r","type":"quantitative","scale":{"type":"log","domain":[0.02,20],"nice":false},"axis":{"orient":"left","values":[0.03,0.04,0.05,0.06,0.07,0.08,0.09,0.1,0.2,0.3,0.4,0.5,0.6,0.7,0.8,0.9,1,2,3,4,5,6,7,8,9,10],"tickSize":{"condition":{"test":"datum.value==0.1||datum.value==1||datum.value==10","value":-7},"value":-3.5},"labels":false,"title":null}}}},
{"mark":{"type":"line","interpolate":"step","color":"#0000ff","strokeWidth":1.3,"clip":true},"encoding":{"x":{"field":"A","type":"quantitative","scale":{"domain":[41.4,120],"nice":false,"zero":false},"axis":null},"y":{"field":"b","type":"quantitative","scale":{"type":"log","domain":[0.02,20],"nice":false},"axis":{"orient":"right","values":[0.03,0.04,0.05,0.06,0.07,0.08,0.09,0.1,0.2,0.3,0.4,0.5,0.6,0.7,0.8,0.9,1,2,3,4,5,6,7,8,9,10],"tickSize":{"condition":{"test":"datum.value==0.1||datum.value==1||datum.value==10","value":-7},"value":-3.5},"labels":false,"title":null}}}},
{"mark":{"type":"point","filled":true,"color":"black","opacity":1,"size":14,"clip":true},"encoding":{"x":{"field":"A","type":"quantitative","scale":{"domain":[41.4,120],"nice":false,"zero":false},"axis":null},"y":{"field":"e","type":"quantitative","scale":{"type":"log","domain":[0.02,20],"nice":false},"axis":null}}},
{"data":{"values":[{"el":"Cu"}]},"mark":{"type":"text","text":"Cu","align":"left","baseline":"middle","font":"Liberation Sans","fontWeight":"bold","fontSize":11,"color":"black"},"encoding":{"x":{"datum":49.4,"type":"quantitative","scale":{"domain":[41.4,120],"nice":false,"zero":false},"axis":null},"y":{"datum":6.4,"type":"quantitative","scale":{"type":"log","domain":[0.02,20],"nice":false},"axis":null}}}]},
{"transform":[{"filter":"datum.el=='Zn'"}],"width":223,"height":74,"resolve":{"axis":{"y":"independent"}},"layer":[
{"mark":{"type":"line","interpolate":"step","color":"#ff0000","strokeWidth":1.3,"clip":true},"encoding":{"x":{"field":"A","type":"quantitative","scale":{"domain":[41.4,120],"nice":false,"zero":false},"axis":{"orient":"bottom","values":[50,60,70,80,90,100,110],"tickSize":{"condition":{"test":"datum.value==50||datum.value==100","value":-7},"value":-3.5},"labels":false,"title":null}},"y":{"field":"r","type":"quantitative","scale":{"type":"log","domain":[0.02,20],"nice":false},"axis":{"orient":"left","values":[0.03,0.04,0.05,0.06,0.07,0.08,0.09,0.1,0.2,0.3,0.4,0.5,0.6,0.7,0.8,0.9,1,2,3,4,5,6,7,8,9,10],"tickSize":{"condition":{"test":"datum.value==0.1||datum.value==1||datum.value==10","value":-7},"value":-3.5},"labelExpr":"datum.value==1?'1':(datum.value==10||datum.value==0.1)?'10':''","labelAlign":"center","labelBaseline":"middle","labelPadding":21.3,"title":null}}}},
{"mark":{"type":"line","interpolate":"step","color":"#0000ff","strokeWidth":1.3,"clip":true},"encoding":{"x":{"field":"A","type":"quantitative","scale":{"domain":[41.4,120],"nice":false,"zero":false},"axis":null},"y":{"field":"b","type":"quantitative","scale":{"type":"log","domain":[0.02,20],"nice":false},"axis":{"orient":"right","values":[0.03,0.04,0.05,0.06,0.07,0.08,0.09,0.1,0.2,0.3,0.4,0.5,0.6,0.7,0.8,0.9,1,2,3,4,5,6,7,8,9,10],"tickSize":{"condition":{"test":"datum.value==0.1||datum.value==1||datum.value==10","value":-7},"value":-3.5},"labels":false,"title":null}}}},
{"mark":{"type":"point","filled":true,"color":"black","opacity":1,"size":14,"clip":true},"encoding":{"x":{"field":"A","type":"quantitative","scale":{"domain":[41.4,120],"nice":false,"zero":false},"axis":null},"y":{"field":"e","type":"quantitative","scale":{"type":"log","domain":[0.02,20],"nice":false},"axis":{"orient":"left","values":[0.1],"ticks":false,"labelExpr":"'-1'","labelFontSize":8,"labelAlign":"left","labelBaseline":"middle","labelPadding":7,"labelOffset":-7,"title":null}}}},
{"data":{"values":[{"el":"Zn"}]},"mark":{"type":"text","text":"Zn","align":"left","baseline":"middle","font":"Liberation Sans","fontWeight":"bold","fontSize":11,"color":"black"},"encoding":{"x":{"datum":49.4,"type":"quantitative","scale":{"domain":[41.4,120],"nice":false,"zero":false},"axis":null},"y":{"datum":6.4,"type":"quantitative","scale":{"type":"log","domain":[0.02,20],"nice":false},"axis":null}}}]},
{"transform":[{"filter":"datum.el=='Ga'"}],"width":223,"height":74,"resolve":{"axis":{"y":"independent"}},"layer":[
{"mark":{"type":"line","interpolate":"step","color":"#ff0000","strokeWidth":1.3,"clip":true},"encoding":{"x":{"field":"A","type":"quantitative","scale":{"domain":[41.4,120],"nice":false,"zero":false},"axis":{"orient":"bottom","values":[50,60,70,80,90,100,110],"tickSize":{"condition":{"test":"datum.value==50||datum.value==100","value":-7},"value":-3.5},"labels":false,"title":null}},"y":{"field":"r","type":"quantitative","scale":{"type":"log","domain":[0.02,20],"nice":false},"axis":{"orient":"left","values":[0.03,0.04,0.05,0.06,0.07,0.08,0.09,0.1,0.2,0.3,0.4,0.5,0.6,0.7,0.8,0.9,1,2,3,4,5,6,7,8,9,10],"tickSize":{"condition":{"test":"datum.value==0.1||datum.value==1||datum.value==10","value":-7},"value":-3.5},"labels":false,"title":null}}}},
{"mark":{"type":"line","interpolate":"step","color":"#0000ff","strokeWidth":1.3,"clip":true},"encoding":{"x":{"field":"A","type":"quantitative","scale":{"domain":[41.4,120],"nice":false,"zero":false},"axis":null},"y":{"field":"b","type":"quantitative","scale":{"type":"log","domain":[0.02,20],"nice":false},"axis":{"orient":"right","values":[0.03,0.04,0.05,0.06,0.07,0.08,0.09,0.1,0.2,0.3,0.4,0.5,0.6,0.7,0.8,0.9,1,2,3,4,5,6,7,8,9,10],"tickSize":{"condition":{"test":"datum.value==0.1||datum.value==1||datum.value==10","value":-7},"value":-3.5},"labels":false,"title":null}}}},
{"mark":{"type":"point","filled":true,"color":"black","opacity":1,"size":14,"clip":true},"encoding":{"x":{"field":"A","type":"quantitative","scale":{"domain":[41.4,120],"nice":false,"zero":false},"axis":null},"y":{"field":"e","type":"quantitative","scale":{"type":"log","domain":[0.02,20],"nice":false},"axis":null}}},
{"data":{"values":[{"el":"Ga"}]},"mark":{"type":"text","text":"Ga","align":"left","baseline":"middle","font":"Liberation Sans","fontWeight":"bold","fontSize":11,"color":"black"},"encoding":{"x":{"datum":49.4,"type":"quantitative","scale":{"domain":[41.4,120],"nice":false,"zero":false},"axis":null},"y":{"datum":6.4,"type":"quantitative","scale":{"type":"log","domain":[0.02,20],"nice":false},"axis":null}}}]},
{"transform":[{"filter":"datum.el=='Ge'"}],"width":223,"height":74,"resolve":{"axis":{"y":"independent"}},"layer":[
{"mark":{"type":"line","interpolate":"step","color":"#ff0000","strokeWidth":1.3,"clip":true},"encoding":{"x":{"field":"A","type":"quantitative","scale":{"domain":[41.4,120],"nice":false,"zero":false},"axis":{"orient":"bottom","values":[50,60,70,80,90,100,110],"tickSize":{"condition":{"test":"datum.value==50||datum.value==100","value":-7},"value":-3.5},"labels":false,"title":null}},"y":{"field":"r","type":"quantitative","scale":{"type":"log","domain":[0.02,20],"nice":false},"axis":{"orient":"left","values":[0.03,0.04,0.05,0.06,0.07,0.08,0.09,0.1,0.2,0.3,0.4,0.5,0.6,0.7,0.8,0.9,1,2,3,4,5,6,7,8,9,10],"tickSize":{"condition":{"test":"datum.value==0.1||datum.value==1||datum.value==10","value":-7},"value":-3.5},"labels":false,"title":null}}}},
{"mark":{"type":"line","interpolate":"step","color":"#0000ff","strokeWidth":1.3,"clip":true},"encoding":{"x":{"field":"A","type":"quantitative","scale":{"domain":[41.4,120],"nice":false,"zero":false},"axis":null},"y":{"field":"b","type":"quantitative","scale":{"type":"log","domain":[0.02,20],"nice":false},"axis":{"orient":"right","values":[0.03,0.04,0.05,0.06,0.07,0.08,0.09,0.1,0.2,0.3,0.4,0.5,0.6,0.7,0.8,0.9,1,2,3,4,5,6,7,8,9,10],"tickSize":{"condition":{"test":"datum.value==0.1||datum.value==1||datum.value==10","value":-7},"value":-3.5},"labels":false,"title":null}}}},
{"mark":{"type":"point","filled":true,"color":"black","opacity":1,"size":14,"clip":true},"encoding":{"x":{"field":"A","type":"quantitative","scale":{"domain":[41.4,120],"nice":false,"zero":false},"axis":null},"y":{"field":"e","type":"quantitative","scale":{"type":"log","domain":[0.02,20],"nice":false},"axis":null}}},
{"data":{"values":[{"el":"Ge"}]},"mark":{"type":"text","text":"Ge","align":"left","baseline":"middle","font":"Liberation Sans","fontWeight":"bold","fontSize":11,"color":"black"},"encoding":{"x":{"datum":49.4,"type":"quantitative","scale":{"domain":[41.4,120],"nice":false,"zero":false},"axis":null},"y":{"datum":6.4,"type":"quantitative","scale":{"type":"log","domain":[0.02,20],"nice":false},"axis":null}}}]},
{"transform":[{"filter":"datum.el=='As'"}],"width":223,"height":74,"resolve":{"axis":{"y":"independent"}},"layer":[
{"mark":{"type":"line","interpolate":"step","color":"#ff0000","strokeWidth":1.3,"clip":true},"encoding":{"x":{"field":"A","type":"quantitative","scale":{"domain":[41.4,120],"nice":false,"zero":false},"axis":{"orient":"bottom","values":[50,60,70,80,90,100,110],"tickSize":{"condition":{"test":"datum.value==50||datum.value==100","value":-7},"value":-3.5},"labels":false,"title":null}},"y":{"field":"r","type":"quantitative","scale":{"type":"log","domain":[0.02,20],"nice":false},"axis":{"orient":"left","values":[0.03,0.04,0.05,0.06,0.07,0.08,0.09,0.1,0.2,0.3,0.4,0.5,0.6,0.7,0.8,0.9,1,2,3,4,5,6,7,8,9,10],"tickSize":{"condition":{"test":"datum.value==0.1||datum.value==1||datum.value==10","value":-7},"value":-3.5},"labelExpr":"datum.value==1?'1':(datum.value==10||datum.value==0.1)?'10':''","labelAlign":"center","labelBaseline":"middle","labelPadding":21.3,"title":null}}}},
{"mark":{"type":"line","interpolate":"step","color":"#0000ff","strokeWidth":1.3,"clip":true},"encoding":{"x":{"field":"A","type":"quantitative","scale":{"domain":[41.4,120],"nice":false,"zero":false},"axis":null},"y":{"field":"b","type":"quantitative","scale":{"type":"log","domain":[0.02,20],"nice":false},"axis":{"orient":"right","values":[0.03,0.04,0.05,0.06,0.07,0.08,0.09,0.1,0.2,0.3,0.4,0.5,0.6,0.7,0.8,0.9,1,2,3,4,5,6,7,8,9,10],"tickSize":{"condition":{"test":"datum.value==0.1||datum.value==1||datum.value==10","value":-7},"value":-3.5},"labels":false,"title":null}}}},
{"mark":{"type":"point","filled":true,"color":"black","opacity":1,"size":14,"clip":true},"encoding":{"x":{"field":"A","type":"quantitative","scale":{"domain":[41.4,120],"nice":false,"zero":false},"axis":null},"y":{"field":"e","type":"quantitative","scale":{"type":"log","domain":[0.02,20],"nice":false},"axis":{"orient":"left","values":[0.1],"ticks":false,"labelExpr":"'-1'","labelFontSize":8,"labelAlign":"left","labelBaseline":"middle","labelPadding":7,"labelOffset":-7,"title":null}}}},
{"data":{"values":[{"el":"As"}]},"mark":{"type":"text","text":"As","align":"left","baseline":"middle","font":"Liberation Sans","fontWeight":"bold","fontSize":11,"color":"black"},"encoding":{"x":{"datum":49.4,"type":"quantitative","scale":{"domain":[41.4,120],"nice":false,"zero":false},"axis":null},"y":{"datum":6.4,"type":"quantitative","scale":{"type":"log","domain":[0.02,20],"nice":false},"axis":null}}}]},
{"transform":[{"filter":"datum.el=='Se'"}],"width":223,"height":74,"resolve":{"axis":{"y":"independent"}},"layer":[
{"mark":{"type":"line","interpolate":"step","color":"#ff0000","strokeWidth":1.3,"clip":true},"encoding":{"x":{"field":"A","type":"quantitative","scale":{"domain":[41.4,120],"nice":false,"zero":false},"axis":{"orient":"bottom","values":[50,60,70,80,90,100,110],"tickSize":{"condition":{"test":"datum.value==50||datum.value==100","value":-7},"value":-3.5},"labels":false,"title":null}},"y":{"field":"r","type":"quantitative","scale":{"type":"log","domain":[0.02,20],"nice":false},"axis":{"orient":"left","values":[0.03,0.04,0.05,0.06,0.07,0.08,0.09,0.1,0.2,0.3,0.4,0.5,0.6,0.7,0.8,0.9,1,2,3,4,5,6,7,8,9,10],"tickSize":{"condition":{"test":"datum.value==0.1||datum.value==1||datum.value==10","value":-7},"value":-3.5},"labels":false,"title":null}}}},
{"mark":{"type":"line","interpolate":"step","color":"#0000ff","strokeWidth":1.3,"clip":true},"encoding":{"x":{"field":"A","type":"quantitative","scale":{"domain":[41.4,120],"nice":false,"zero":false},"axis":null},"y":{"field":"b","type":"quantitative","scale":{"type":"log","domain":[0.02,20],"nice":false},"axis":{"orient":"right","values":[0.03,0.04,0.05,0.06,0.07,0.08,0.09,0.1,0.2,0.3,0.4,0.5,0.6,0.7,0.8,0.9,1,2,3,4,5,6,7,8,9,10],"tickSize":{"condition":{"test":"datum.value==0.1||datum.value==1||datum.value==10","value":-7},"value":-3.5},"labels":false,"title":null}}}},
{"mark":{"type":"point","filled":true,"color":"black","opacity":1,"size":14,"clip":true},"encoding":{"x":{"field":"A","type":"quantitative","scale":{"domain":[41.4,120],"nice":false,"zero":false},"axis":null},"y":{"field":"e","type":"quantitative","scale":{"type":"log","domain":[0.02,20],"nice":false},"axis":null}}},
{"data":{"values":[{"el":"Se"}]},"mark":{"type":"text","text":"Se","align":"left","baseline":"middle","font":"Liberation Sans","fontWeight":"bold","fontSize":11,"color":"black"},"encoding":{"x":{"datum":49.4,"type":"quantitative","scale":{"domain":[41.4,120],"nice":false,"zero":false},"axis":null},"y":{"datum":6.4,"type":"quantitative","scale":{"type":"log","domain":[0.02,20],"nice":false},"axis":null}}}]},
{"transform":[{"filter":"datum.el=='Br'"}],"width":223,"height":74,"resolve":{"axis":{"y":"independent"}},"layer":[
{"mark":{"type":"line","interpolate":"step","color":"#ff0000","strokeWidth":1.3,"clip":true},"encoding":{"x":{"field":"A","type":"quantitative","scale":{"domain":[41.4,120],"nice":false,"zero":false},"axis":{"orient":"bottom","values":[50,60,70,80,90,100,110],"tickSize":{"condition":{"test":"datum.value==50||datum.value==100","value":-7},"value":-3.5},"labels":false,"title":null}},"y":{"field":"r","type":"quantitative","scale":{"type":"log","domain":[0.02,20],"nice":false},"axis":{"orient":"left","values":[0.03,0.04,0.05,0.06,0.07,0.08,0.09,0.1,0.2,0.3,0.4,0.5,0.6,0.7,0.8,0.9,1,2,3,4,5,6,7,8,9,10],"tickSize":{"condition":{"test":"datum.value==0.1||datum.value==1||datum.value==10","value":-7},"value":-3.5},"labels":false,"title":null}}}},
{"mark":{"type":"line","interpolate":"step","color":"#0000ff","strokeWidth":1.3,"clip":true},"encoding":{"x":{"field":"A","type":"quantitative","scale":{"domain":[41.4,120],"nice":false,"zero":false},"axis":null},"y":{"field":"b","type":"quantitative","scale":{"type":"log","domain":[0.02,20],"nice":false},"axis":{"orient":"right","values":[0.03,0.04,0.05,0.06,0.07,0.08,0.09,0.1,0.2,0.3,0.4,0.5,0.6,0.7,0.8,0.9,1,2,3,4,5,6,7,8,9,10],"tickSize":{"condition":{"test":"datum.value==0.1||datum.value==1||datum.value==10","value":-7},"value":-3.5},"labels":false,"title":null}}}},
{"mark":{"type":"point","filled":true,"color":"black","opacity":1,"size":14,"clip":true},"encoding":{"x":{"field":"A","type":"quantitative","scale":{"domain":[41.4,120],"nice":false,"zero":false},"axis":null},"y":{"field":"e","type":"quantitative","scale":{"type":"log","domain":[0.02,20],"nice":false},"axis":null}}},
{"data":{"values":[{"el":"Br"}]},"mark":{"type":"text","text":"Br","align":"left","baseline":"middle","font":"Liberation Sans","fontWeight":"bold","fontSize":11,"color":"black"},"encoding":{"x":{"datum":49.4,"type":"quantitative","scale":{"domain":[41.4,120],"nice":false,"zero":false},"axis":null},"y":{"datum":6.4,"type":"quantitative","scale":{"type":"log","domain":[0.02,20],"nice":false},"axis":null}}}]},
{"transform":[{"filter":"datum.el=='Kr'"}],"width":223,"height":74,"resolve":{"axis":{"x":"independent","y":"independent"}},"layer":[
{"mark":{"type":"line","interpolate":"step","color":"#ff0000","strokeWidth":1.3,"clip":true},"encoding":{"x":{"field":"A","type":"quantitative","scale":{"domain":[41.4,120],"nice":false,"zero":false},"axis":{"orient":"bottom","values":[50,60,70,80,90,100,110],"tickSize":{"condition":{"test":"datum.value==50||datum.value==100","value":-7},"value":-3.5},"labels":false,"title":null}},"y":{"field":"r","type":"quantitative","scale":{"type":"log","domain":[0.02,20],"nice":false},"axis":{"orient":"left","values":[0.03,0.04,0.05,0.06,0.07,0.08,0.09,0.1,0.2,0.3,0.4,0.5,0.6,0.7,0.8,0.9,1,2,3,4,5,6,7,8,9,10],"tickSize":{"condition":{"test":"datum.value==0.1||datum.value==1||datum.value==10","value":-7},"value":-3.5},"labelExpr":"datum.value==1?'1':(datum.value==10||datum.value==0.1)?'10':''","labelAlign":"center","labelBaseline":"middle","labelPadding":21.3,"title":null}}}},
{"mark":{"type":"line","interpolate":"step","color":"#0000ff","strokeWidth":1.3,"clip":true},"encoding":{"x":{"field":"A","type":"quantitative","scale":{"domain":[41.4,120],"nice":false,"zero":false},"axis":null},"y":{"field":"b","type":"quantitative","scale":{"type":"log","domain":[0.02,20],"nice":false},"axis":{"orient":"right","values":[0.03,0.04,0.05,0.06,0.07,0.08,0.09,0.1,0.2,0.3,0.4,0.5,0.6,0.7,0.8,0.9,1,2,3,4,5,6,7,8,9,10],"tickSize":{"condition":{"test":"datum.value==0.1||datum.value==1||datum.value==10","value":-7},"value":-3.5},"labels":false,"title":null}}}},
{"mark":{"type":"point","filled":true,"color":"black","opacity":1,"size":14,"clip":true},"encoding":{"x":{"field":"A","type":"quantitative","scale":{"domain":[41.4,120],"nice":false,"zero":false},"axis":null},"y":{"field":"e","type":"quantitative","scale":{"type":"log","domain":[0.02,20],"nice":false},"axis":{"orient":"left","values":[0.1],"ticks":false,"labelExpr":"'-1'","labelFontSize":8,"labelAlign":"left","labelBaseline":"middle","labelPadding":7,"labelOffset":-7,"title":null}}}},
{"data":{"values":[{"el":"Kr"}]},"mark":{"type":"text","text":"Kr","align":"left","baseline":"middle","font":"Liberation Sans","fontWeight":"bold","fontSize":11,"color":"black"},"encoding":{"x":{"datum":49.4,"type":"quantitative","scale":{"domain":[41.4,120],"nice":false,"zero":false},"axis":{"orient":"bottom","values":[50,100],"ticks":false,"labelPadding":6,"labelBaseline":"top","labelFontWeight":"bold","title":"Mass Number","titleX":247.7,"titleY":37.5,"titleAlign":"center","titleBaseline":"alphabetic","titleAnchor":"start"}},"y":{"datum":6.4,"type":"quantitative","scale":{"type":"log","domain":[0.02,20],"nice":false},"axis":null}}}]},
{"transform":[{"filter":"datum.el=='Rb'"}],"width":223,"height":74,"resolve":{"axis":{"x":"independent","y":"independent"}},"layer":[
{"mark":{"type":"line","interpolate":"step","color":"#ff0000","strokeWidth":1.3,"clip":true},"encoding":{"x":{"field":"A","type":"quantitative","scale":{"domain":[41.4,120],"nice":false,"zero":false},"axis":{"orient":"bottom","values":[50,60,70,80,90,100,110],"tickSize":{"condition":{"test":"datum.value==50||datum.value==100","value":-7},"value":-3.5},"labels":false,"title":null}},"y":{"field":"r","type":"quantitative","scale":{"type":"log","domain":[0.02,20],"nice":false},"axis":{"orient":"left","values":[0.03,0.04,0.05,0.06,0.07,0.08,0.09,0.1,0.2,0.3,0.4,0.5,0.6,0.7,0.8,0.9,1,2,3,4,5,6,7,8,9,10],"tickSize":{"condition":{"test":"datum.value==0.1||datum.value==1||datum.value==10","value":-7},"value":-3.5},"labels":false,"title":null}}}},
{"mark":{"type":"line","interpolate":"step","color":"#0000ff","strokeWidth":1.3,"clip":true},"encoding":{"x":{"field":"A","type":"quantitative","scale":{"domain":[41.4,120],"nice":false,"zero":false},"axis":null},"y":{"field":"b","type":"quantitative","scale":{"type":"log","domain":[0.02,20],"nice":false},"axis":{"orient":"right","values":[0.03,0.04,0.05,0.06,0.07,0.08,0.09,0.1,0.2,0.3,0.4,0.5,0.6,0.7,0.8,0.9,1,2,3,4,5,6,7,8,9,10],"tickSize":{"condition":{"test":"datum.value==0.1||datum.value==1||datum.value==10","value":-7},"value":-3.5},"labels":false,"title":null}}}},
{"mark":{"type":"point","filled":true,"color":"black","opacity":1,"size":14,"clip":true},"encoding":{"x":{"field":"A","type":"quantitative","scale":{"domain":[41.4,120],"nice":false,"zero":false},"axis":null},"y":{"field":"e","type":"quantitative","scale":{"type":"log","domain":[0.02,20],"nice":false},"axis":null}}},
{"data":{"values":[{"el":"Rb"}]},"mark":{"type":"text","text":"Rb","align":"left","baseline":"middle","font":"Liberation Sans","fontWeight":"bold","fontSize":11,"color":"black"},"encoding":{"x":{"datum":49.4,"type":"quantitative","scale":{"domain":[41.4,120],"nice":false,"zero":false},"axis":{"orient":"bottom","values":[50,100],"ticks":false,"labelPadding":6,"labelBaseline":"top","labelFontWeight":"bold","title":null}},"y":{"datum":6.4,"type":"quantitative","scale":{"type":"log","domain":[0.02,20],"nice":false},"axis":null}}}]},
{"transform":[{"filter":"datum.el=='Sr'"}],"width":223,"height":74,"resolve":{"axis":{"x":"independent","y":"independent"}},"layer":[
{"mark":{"type":"line","interpolate":"step","color":"#ff0000","strokeWidth":1.3,"clip":true},"encoding":{"x":{"field":"A","type":"quantitative","scale":{"domain":[41.4,120],"nice":false,"zero":false},"axis":{"orient":"bottom","values":[50,60,70,80,90,100,110],"tickSize":{"condition":{"test":"datum.value==50||datum.value==100","value":-7},"value":-3.5},"labels":false,"title":null}},"y":{"field":"r","type":"quantitative","scale":{"type":"log","domain":[0.02,20],"nice":false},"axis":{"orient":"left","values":[0.03,0.04,0.05,0.06,0.07,0.08,0.09,0.1,0.2,0.3,0.4,0.5,0.6,0.7,0.8,0.9,1,2,3,4,5,6,7,8,9,10],"tickSize":{"condition":{"test":"datum.value==0.1||datum.value==1||datum.value==10","value":-7},"value":-3.5},"labels":false,"title":null}}}},
{"mark":{"type":"line","interpolate":"step","color":"#0000ff","strokeWidth":1.3,"clip":true},"encoding":{"x":{"field":"A","type":"quantitative","scale":{"domain":[41.4,120],"nice":false,"zero":false},"axis":null},"y":{"field":"b","type":"quantitative","scale":{"type":"log","domain":[0.02,20],"nice":false},"axis":{"orient":"right","values":[0.03,0.04,0.05,0.06,0.07,0.08,0.09,0.1,0.2,0.3,0.4,0.5,0.6,0.7,0.8,0.9,1,2,3,4,5,6,7,8,9,10],"tickSize":{"condition":{"test":"datum.value==0.1||datum.value==1||datum.value==10","value":-7},"value":-3.5},"labels":false,"title":null}}}},
{"mark":{"type":"point","filled":true,"color":"black","opacity":1,"size":14,"clip":true},"encoding":{"x":{"field":"A","type":"quantitative","scale":{"domain":[41.4,120],"nice":false,"zero":false},"axis":null},"y":{"field":"e","type":"quantitative","scale":{"type":"log","domain":[0.02,20],"nice":false},"axis":null}}},
{"data":{"values":[{"el":"Sr"}]},"mark":{"type":"text","text":"Sr","align":"left","baseline":"middle","font":"Liberation Sans","fontWeight":"bold","fontSize":11,"color":"black"},"encoding":{"x":{"datum":49.4,"type":"quantitative","scale":{"domain":[41.4,120],"nice":false,"zero":false},"axis":{"orient":"bottom","values":[50,100],"ticks":false,"labelPadding":6,"labelBaseline":"top","labelFontWeight":"bold","title":null}},"y":{"datum":6.4,"type":"quantitative","scale":{"type":"log","domain":[0.02,20],"nice":false},"axis":null}}}]}
]
}
